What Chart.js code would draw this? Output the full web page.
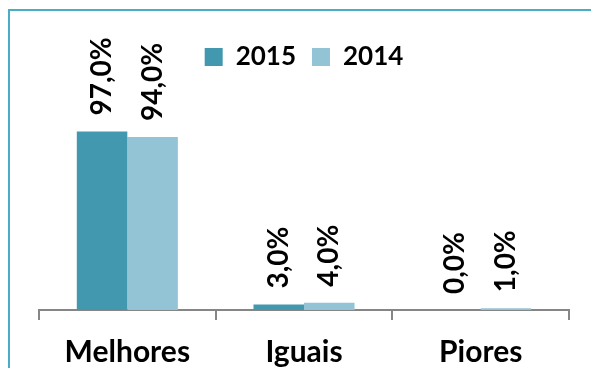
<!DOCTYPE html>
<html>
<head>
<meta charset="utf-8">
<script src="https://cdn.jsdelivr.net/npm/chart.js@4/dist/chart.umd.min.js"></script>
<style>
  html, body { margin: 0; padding: 0; background: #fff; }
  #frame {
    position: absolute; left: 8px; top: 9px; width: 640px; height: 420px;
    border-top: 2px solid #4BACC6; border-left: 2px solid #4BACC6;
  }
  #wrap { position: absolute; left: 0; top: 0; width: 591px; height: 368px; }
</style>
</head>
<body>
<div id="frame"></div>
<div id="wrap"><canvas id="ChartEvolucao_Canvasobj" width="591" height="368"></canvas></div>
<script>
var categorias = ['Melhores', 'Iguais', 'Piores'];
var valores2015 = [97.0, 3.0, 0.0];
var valores2014 = [94.0, 4.0, 1.0];

const FONTE = 'Lato, "Open Sans", sans-serif';

// rotated value labels above each bar, e.g. "97,0%"
const rotuloBarras = {
  id: 'rotuloBarras',
  afterDatasetsDraw(chart) {
    const ctx = chart.ctx;
    ctx.save();
    ctx.fillStyle = '#000';
    ctx.font = 'bold 28px ' + FONTE;
    ctx.textAlign = 'left';
    ctx.textBaseline = 'middle';
    chart.data.datasets.forEach(function (ds, i) {
      chart.getDatasetMeta(i).data.forEach(function (bar, j) {
        var txt = ds.data[j].toFixed(1).replace('.', ',') + '%';
        ctx.save();
        ctx.translate(bar.x, bar.y - 16);
        ctx.rotate(-Math.PI / 2);
        ctx.fillText(txt, 0, 0);
        ctx.restore();
      });
    });
    ctx.restore();
  }
};

const config_evolucao = {
  type: 'bar',
  data: {
    labels: categorias,
    datasets: [
      {
        label: '2015',
        backgroundColor: '#4298AF',
        data: valores2015,
        categoryPercentage: 0.572,
        barPercentage: 1.0
      },
      {
        label: '2014',
        backgroundColor: '#93C4D6',
        data: valores2014,
        categoryPercentage: 0.572,
        barPercentage: 1.0
      }
    ]
  },
  options: {
    responsive: false,
    animation: false,
    layout: {
      padding: { left: 39, right: 22, top: 28, bottom: -16 }
    },
    plugins: {
      tooltip: { enabled: false },
      legend: {
        position: 'top',
        labels: {
          boxWidth: 18,
          boxHeight: 18,
          padding: 16,
          color: '#000',
          font: { family: FONTE, size: 26, weight: 'bold' }
        }
      }
    },
    scales: {
      x: {
        offset: true,
        grid: {
          offset: true,
          drawOnChartArea: false,
          drawTicks: true,
          tickLength: 10,
          color: '#868686',
          lineWidth: 2
        },
        border: { display: true, color: '#868686', width: 2 },
        ticks: {
          padding: 14,
          color: '#000',
          font: { family: FONTE, size: 30, weight: 'bold' }
        }
      },
      y: {
        display: false,
        min: 0,
        max: 125
      }
    }
  },
  plugins: [rotuloBarras]
};

const ChartEvolucao = new Chart(
  document.getElementById('ChartEvolucao_Canvasobj'),
  config_evolucao
);
</script>
</body>
</html>
